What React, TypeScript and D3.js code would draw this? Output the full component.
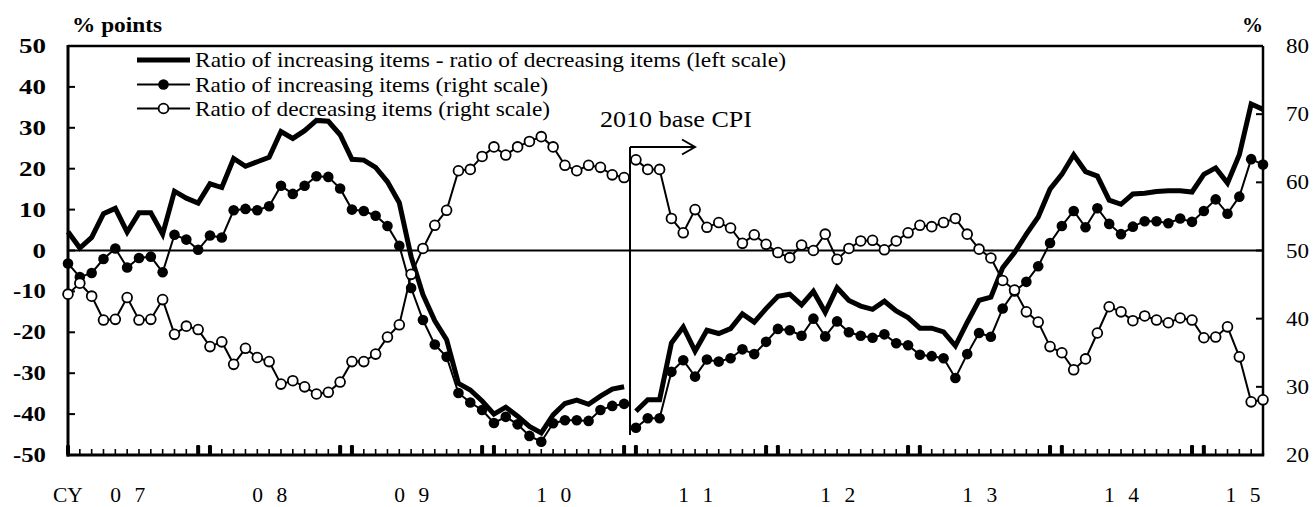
import React from 'react';
import * as d3 from 'd3';

// Monthly observations, Jan 2007 - Jun 2015
const months: string[] = d3
  .timeMonth.range(new Date(2007, 0, 1), new Date(2015, 6, 1))
  .map((d) => d3.timeFormat('%Y-%m')(d));

// First month of the 2010-base CPI series
const newBaseStart = '2011-01';

// Ratio of increasing items - ratio of decreasing items (% points, left scale)
const diffItems = [
  4.6, 0.6, 3.2, 9.0, 10.3, 4.5, 9.2, 9.2, 4.0, 14.5, 12.8, 11.6,
  16.3, 15.4, 22.5, 20.6, 21.7, 22.8, 29.1, 27.4, 29.3, 31.8, 31.6, 28.3,
  22.3, 22.1, 20.3, 16.8, 11.7, -1.5, -10.8, -17.2, -21.8, -32.5, -34.1, -36.8,
  -40.0, -38.3, -40.5, -43.0, -44.6, -40.2, -37.4, -36.6, -37.6, -35.6, -33.9, -33.3,
  -39.3, -36.5, -36.5, -22.6, -18.7, -24.6, -19.5, -20.3, -19.1, -15.5, -17.5, -14.2,
  -11.2, -10.7, -13.3, -10.0, -15.1, -9.1, -12.2, -13.6, -14.4, -12.4, -14.8, -16.4,
  -19.0, -19.0, -19.9, -23.3, -17.6, -12.2, -11.4, -4.2, -0.5, 4.0, 8.2, 15.0,
  18.6, 23.4, 19.3, 18.2, 12.3, 11.3, 13.8, 14.0, 14.4, 14.6, 14.6, 14.3,
  18.6, 20.2, 16.5, 23.4, 35.8, 34.5,
];

// Ratio of increasing items (%, right scale)
const increasingRatio = [
  48.1, 46.1, 46.7, 48.75, 50.3, 47.5, 48.9, 49.1, 46.8, 52.3, 51.6, 50.1,
  52.2, 51.9, 55.9, 56.1, 55.9, 56.5, 59.5, 58.3, 59.5, 60.9, 60.8, 59.1,
  56.0, 55.8, 55.1, 53.6, 50.7, 44.5, 39.8, 36.2, 34.4, 29.1, 27.7, 26.6,
  24.7, 25.6, 24.5, 22.8, 21.95, 24.65, 25.1, 25.1, 25.0, 26.6, 27.2, 27.5,
  24.0, 25.4, 25.4, 32.2, 33.9, 31.5, 34.0, 33.7, 34.2, 35.5, 34.8, 36.6,
  38.5, 38.3, 37.5, 40.0, 37.4, 39.6, 38.0, 37.5, 37.2, 37.7, 36.4, 36.1,
  34.7, 34.5, 34.2, 31.3, 34.8, 37.9, 37.35, 41.5, 44.0, 45.4, 47.7, 51.1,
  53.6, 55.8, 53.4, 56.2, 53.9, 52.4, 53.5, 54.3, 54.3, 54.0, 54.7, 54.2,
  55.8, 57.5, 55.4, 57.9, 63.4, 62.6,
];

// Ratio of decreasing items (%, right scale)
const decreasingRatio = [
  43.6, 45.2, 43.3, 39.8, 39.9, 43.1, 39.8, 39.9, 42.8, 37.7, 38.9, 38.4,
  35.9, 36.6, 33.3, 35.65, 34.3, 33.7, 30.4, 30.9, 30.0, 28.95, 29.2, 30.7,
  33.7, 33.7, 34.8, 37.3, 39.1, 46.5, 50.3, 53.7, 55.9, 61.7, 61.9, 63.8,
  65.2, 64.0, 65.2, 66.0, 66.7, 65.2, 62.5, 61.7, 62.5, 62.2, 61.1, 60.7,
  63.3, 61.9, 61.9, 54.7, 52.6, 56.0, 53.4, 54.1, 53.3, 51.05, 52.3, 50.9,
  49.7, 48.95, 50.8, 50.0, 52.4, 48.7, 50.3, 51.4, 51.5, 50.1, 51.4, 52.6,
  53.7, 53.5, 54.1, 54.7, 52.4, 50.2, 48.9, 45.6, 44.2, 41.0, 39.5, 35.9,
  35.0, 32.5, 34.1, 37.9, 41.75, 41.0, 39.7, 40.4, 39.8, 39.4, 40.1, 39.8,
  37.2, 37.3, 38.8, 34.4, 27.8, 28.1,
];

const leftTicks = [50, 40, 30, 20, 10, 0, -10, -20, -30, -40, -50];
const rightTicks = [80, 70, 60, 50, 40, 30, 20];
const yearLabels = ['0 7', '0 8', '0 9', '1 0', '1 1', '1 2', '1 3', '1 4', '1 5'];
const legendLabels = [
  'Ratio of increasing items - ratio of decreasing items (left scale)',
  'Ratio of increasing items (right scale)',
  'Ratio of decreasing items (right scale)',
];

const W = 1316;
const H = 507;
const PL = 68;
const PR = 1263;
const PT = 46;
const PB = 455;
const FONT = '"Liberation Serif", "Times New Roman", serif';

type Row = { m: string; diff: number; inc: number; dec: number };

export default function App() {
  const x = d3.scalePoint<string>().domain(months).range([PL, PR]).padding(0);
  const yL = d3.scaleLinear().domain([-50, 50]).range([PB, PT]);
  const yR = d3.scaleLinear().domain([20, 80]).range([PB, PT]);
  const step = x.step();

  const rows: Row[] = months.map((m, i) => ({
    m,
    diff: diffItems[i],
    inc: increasingRatio[i],
    dec: decreasingRatio[i],
  }));
  const breakAt = months.indexOf(newBaseStart);
  const segments = [rows.slice(0, breakAt), rows.slice(breakAt)];

  const diffLine = d3
    .line<Row>()
    .x((d) => x(d.m)!)
    .y((d) => yL(d.diff));
  const incLine = d3
    .line<Row>()
    .x((d) => x(d.m)!)
    .y((d) => yR(d.inc));
  const decLine = d3
    .line<Row>()
    .x((d) => x(d.m)!)
    .y((d) => yR(d.dec));

  // Year labels sit under the middle of each year's months
  const years = d3.range(2007, 2016);
  const yearPos = years.map((yr) => {
    const idx = months
      .map((m, i) => (m.startsWith(String(yr)) ? i : -1))
      .filter((i) => i >= 0);
    const first = idx[0];
    const full = idx.length === 12;
    const center = full ? first + 5.05 : (first + idx[idx.length - 1]) / 2 + 0.8;
    return PL + center * step;
  });

  const baseX = (x(months[breakAt - 1])! + x(months[breakAt])!) / 2;
  const arrowY = 147;

  const legendY = [60, 84.5, 108.5];
  const legendWidths = [591, 353, 355];
  const legX0 = 137;
  const legX1 = 190;
  const legMid = (legX0 + legX1) / 2;

  return (
    <div style={{ position: 'absolute', left: 0, top: 0 }}>
      <svg width={W} height={H} style={{ display: 'block', background: '#fff' }} fontFamily={FONT}>
        <rect x={0} y={0} width={W} height={H} fill="#fff" />

        {/* zero line */}
        <line x1={PL} x2={PR} y1={yL(0)} y2={yL(0)} stroke="#000" strokeWidth={2} />

        {/* frame */}
        <line x1={PL} x2={PR} y1={PT} y2={PT} stroke="#000" strokeWidth={2.5} />
        <line x1={PR} x2={PR} y1={PT} y2={PB} stroke="#000" strokeWidth={2.5} />
        <line x1={PL} x2={PL} y1={PT - 1} y2={PB + 1.5} stroke="#000" strokeWidth={3} />
        <line x1={PL - 1.5} x2={PR + 1.25} y1={PB} y2={PB} stroke="#000" strokeWidth={3} />

        {/* left axis ticks and labels */}
        {leftTicks.map((t) => (
          <g key={'l' + t}>
            <line x1={PL} x2={PL + 7} y1={yL(t)} y2={yL(t)} stroke="#000" strokeWidth={2} />
            <text
              x={46}
              y={yL(t) + 7}
              textAnchor="end"
              fontSize={20}
              fontWeight="bold"
              textLength={String(t).length === 1 ? 13.5 : String(t).length === 2 ? 27 : 33}
              lengthAdjust="spacingAndGlyphs"
            >
              {t}
            </text>
          </g>
        ))}

        {/* right axis ticks and labels */}
        {rightTicks.map((t) => (
          <g key={'r' + t}>
            <line x1={PR - 7} x2={PR} y1={yR(t)} y2={yR(t)} stroke="#000" strokeWidth={2} />
            <text
              x={1286}
              y={yR(t) + 7}
              textAnchor="start"
              fontSize={20}
              textLength={23}
              lengthAdjust="spacingAndGlyphs"
            >
              {t}
            </text>
          </g>
        ))}

        {/* monthly ticks, heavier at the turn of each year */}
        {months.map((m, i) => {
          const mo = i % 12;
          const heavy = mo === 0 || mo === 11;
          const cx = x(m)!;
          return heavy ? (
            <rect key={'t' + m} x={cx - 2} y={PB - 10} width={4} height={10} rx={1.2} fill="#000" />
          ) : (
            <rect key={'t' + m} x={cx - 0.8} y={PB - 6} width={1.6} height={6} fill="#000" />
          );
        })}

        {/* axis titles */}
        <text x={72} y={32} fontSize={21} fontWeight="bold" textLength={90} lengthAdjust="spacingAndGlyphs">
          % points
        </text>
        <text x={1242} y={32} fontSize={21} fontWeight="bold">
          %
        </text>

        {/* year labels */}
        <text x={53} y={502} fontSize={21.5}>
          CY
        </text>
        {yearLabels.map((lab, i) => (
          <text
            key={'y' + lab}
            x={yearPos[i]}
            y={502}
            fontSize={21.5}
            textAnchor="middle"
            style={{ whiteSpace: 'pre' }}
            textLength={35}
            lengthAdjust="spacing"
          >
            {lab}
          </text>
        ))}

        {/* series: difference (bold) */}
        {segments.map((seg, k) => (
          <path
            key={'d' + k}
            d={diffLine(seg) || ''}
            fill="none"
            stroke="#000"
            strokeWidth={5}
            strokeLinejoin="miter"
            strokeMiterlimit={3}
          />
        ))}

        {/* series: increasing items */}
        {segments.map((seg, k) => (
          <path key={'i' + k} d={incLine(seg) || ''} fill="none" stroke="#000" strokeWidth={2} />
        ))}
        {rows.map((d) => (
          <circle key={'ic' + d.m} cx={x(d.m)!} cy={yR(d.inc)} r={5.3} fill="#000" />
        ))}

        {/* series: decreasing items */}
        {segments.map((seg, k) => (
          <path key={'c' + k} d={decLine(seg) || ''} fill="none" stroke="#000" strokeWidth={2} />
        ))}
        {rows.map((d) => (
          <circle
            key={'dc' + d.m}
            cx={x(d.m)!}
            cy={yR(d.dec)}
            r={4.9}
            fill="#fff"
            stroke="#000"
            strokeWidth={1.8}
          />
        ))}

        {/* 2010 base CPI marker */}
        <line x1={baseX} x2={baseX} y1={arrowY} y2={435} stroke="#000" strokeWidth={2} />
        <line x1={baseX} x2={695} y1={arrowY} y2={arrowY} stroke="#000" strokeWidth={2} />
        <polyline
          points={`682,${arrowY - 7.5} 695,${arrowY} 682,${arrowY + 7.5}`}
          fill="none"
          stroke="#000"
          strokeWidth={2}
        />
        <text x={600} y={127} fontSize={24} textLength={152} lengthAdjust="spacingAndGlyphs">
          2010 base CPI
        </text>

        {/* legend */}
        <g>
          <line x1={legX0} x2={legX1} y1={legendY[0]} y2={legendY[0]} stroke="#000" strokeWidth={5} />
          <line x1={legX0} x2={legX1} y1={legendY[1]} y2={legendY[1]} stroke="#000" strokeWidth={2} />
          <circle cx={legMid} cy={legendY[1]} r={5.3} fill="#000" />
          <line x1={legX0} x2={legX1} y1={legendY[2]} y2={legendY[2]} stroke="#000" strokeWidth={2} />
          <circle cx={legMid} cy={legendY[2]} r={4.9} fill="#fff" stroke="#000" strokeWidth={1.8} />
          {legendLabels.map((lab, i) => (
            <text
              key={'lg' + i}
              x={195}
              y={legendY[i] + 7}
              fontSize={21}
              textLength={legendWidths[i]}
              lengthAdjust="spacingAndGlyphs"
            >
              {lab}
            </text>
          ))}
        </g>
      </svg>
    </div>
  );
}
